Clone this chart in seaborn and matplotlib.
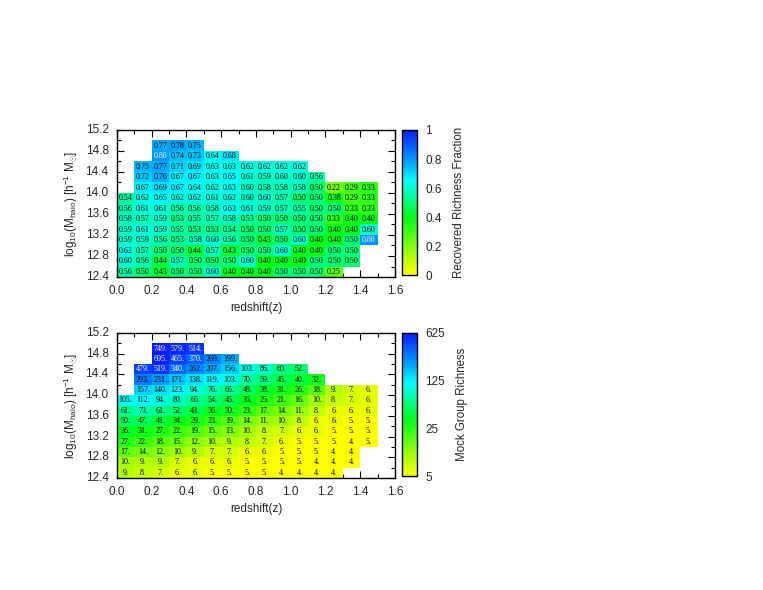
import numpy as np
import pandas as pd
import matplotlib
matplotlib.use("Agg")
import matplotlib.pyplot as plt
import seaborn as sns
from matplotlib.colors import LinearSegmentedColormap, LogNorm
from matplotlib.ticker import FixedLocator, LogLocator, NullFormatter

# bins: redshift en pasos de 0.1, masa en pasos de 0.2 dex (de arriba a abajo)
z_edges = [round(0.1 * i, 1) for i in range(17)]
mass_lo = [15.0, 14.8, 14.6, 14.4, 14.2, 14.0, 13.8, 13.6, 13.4, 13.2, 13.0, 12.8, 12.6, 12.4]
col_start = [0, 2, 2, 1, 1, 1, 0, 0, 0, 0, 0, 0, 0, 0]

# fraccion de riqueza recuperada por fila
frac_rows = [
    [],
    [0.77, 0.78, 0.75],
    [0.80, 0.74, 0.73, 0.64, 0.68],
    [0.75, 0.77, 0.71, 0.69, 0.63, 0.63, 0.62, 0.62, 0.62, 0.62],
    [0.72, 0.76, 0.67, 0.67, 0.63, 0.65, 0.61, 0.59, 0.60, 0.60, 0.56],
    [0.67, 0.69, 0.67, 0.64, 0.62, 0.63, 0.60, 0.58, 0.58, 0.58, 0.50, 0.22, 0.29, 0.33],
    [0.54, 0.62, 0.65, 0.62, 0.62, 0.61, 0.62, 0.60, 0.60, 0.57, 0.50, 0.50, 0.38, 0.29, 0.33],
    [0.56, 0.61, 0.61, 0.56, 0.56, 0.58, 0.63, 0.61, 0.59, 0.57, 0.55, 0.50, 0.50, 0.33, 0.33],
    [0.58, 0.57, 0.59, 0.53, 0.55, 0.57, 0.58, 0.53, 0.50, 0.50, 0.50, 0.50, 0.33, 0.40, 0.40],
    [0.59, 0.61, 0.59, 0.55, 0.53, 0.53, 0.54, 0.50, 0.50, 0.57, 0.50, 0.50, 0.40, 0.40, 0.60],
    [0.59, 0.59, 0.56, 0.53, 0.58, 0.60, 0.56, 0.50, 0.43, 0.50, 0.60, 0.40, 0.40, 0.50, 0.80],
    [0.62, 0.57, 0.50, 0.50, 0.44, 0.57, 0.43, 0.50, 0.50, 0.60, 0.40, 0.40, 0.50, 0.50],
    [0.60, 0.56, 0.44, 0.57, 0.50, 0.50, 0.50, 0.60, 0.40, 0.40, 0.40, 0.50, 0.50, 0.50],
    [0.56, 0.50, 0.43, 0.50, 0.50, 0.60, 0.40, 0.40, 0.40, 0.50, 0.50, 0.50, 0.25],
]

# riqueza de los grupos mock por fila
rich_rows = [
    [],
    [749, 579, 514],
    [695, 465, 370, 269, 199],
    [479, 519, 340, 262, 207, 156, 103, 86, 60, 52],
    [293, 231, 171, 138, 119, 103, 70, 59, 45, 40, 32],
    [157, 140, 123, 94, 76, 65, 48, 38, 31, 26, 18, 9, 7, 6],
    [105, 112, 94, 80, 65, 54, 45, 35, 25, 21, 16, 10, 8, 7, 6],
    [61, 73, 61, 52, 43, 36, 30, 23, 17, 14, 11, 8, 6, 6, 6],
    [50, 47, 41, 34, 29, 23, 19, 14, 11, 10, 8, 6, 6, 5, 5],
    [36, 31, 27, 22, 19, 15, 13, 10, 8, 7, 6, 6, 5, 5, 5],
    [27, 22, 18, 15, 12, 10, 9, 8, 7, 6, 5, 5, 5, 4, 5],
    [17, 14, 12, 10, 9, 7, 7, 6, 6, 5, 5, 5, 4, 4],
    [10, 9, 9, 7, 6, 6, 6, 5, 5, 5, 5, 4, 4, 4],
    [9, 8, 7, 6, 6, 5, 5, 5, 5, 4, 4, 4, 4],
]

frac_ticks = [0, 0.2, 0.4, 0.6, 0.8, 1.0]
frac_ticklabels = ["0", "0.2", "0.4", "0.6", "0.8", "1"]
rich_ticks = [5, 25, 125, 625]


def build_matrix(rows):
    m = np.full((len(mass_lo), len(z_edges) - 1), np.nan)
    for i, vals in enumerate(rows):
        for j, v in enumerate(vals):
            m[i, col_start[i] + j] = v
    return pd.DataFrame(m, index=mass_lo, columns=z_edges[:-1])


frac = build_matrix(frac_rows)
rich = build_matrix(rich_rows)

# paleta estilo gnuplot: amarillo -> verde -> cian -> azul
cmap = LinearSegmentedColormap.from_list(
    "gp", [(0.0, "#ffff00"), (0.4, "#00ff1a"), (0.65, "#00ffff"),
           (0.8, "#0096ff"), (1.0, "#0a1eff")])

sns.set_style("white")
plt.rcParams["font.family"] = ["Liberation Sans", "DejaVu Sans"]
plt.rcParams["mathtext.fontset"] = "custom"
plt.rcParams["mathtext.rm"] = "Liberation Sans"
plt.rcParams["mathtext.it"] = "Liberation Sans:italic"

fig = plt.figure(figsize=(7.63, 5.90), dpi=100)
ax1 = fig.add_axes([0.1533, 0.5305, 0.3644, 0.2492])
cax1 = fig.add_axes([0.5270, 0.5335, 0.0197, 0.2462])
ax2 = fig.add_axes([0.1533, 0.1898, 0.3644, 0.2458])
cax2 = fig.add_axes([0.5270, 0.1928, 0.0197, 0.2428])

annot_kw = {"fontsize": 5.8, "family": "Liberation Serif"}

frac_lab = frac.map(lambda v: "" if np.isnan(v) else f"{v:.2f}")
sns.heatmap(frac, ax=ax1, cmap=cmap, vmin=0, vmax=1, cbar_ax=cax1,
            annot=frac_lab.values, fmt="", annot_kws=annot_kw)

rich_lab = rich.map(lambda v: "" if np.isnan(v) else f"{int(v)}.")
sns.heatmap(rich, ax=ax2, cmap=cmap, norm=LogNorm(vmin=5, vmax=625), cbar_ax=cax2,
            annot=rich_lab.values, fmt="", annot_kws=annot_kw)

# color del texto: blanco sobre celdas azul oscuro
for t in ax1.texts:
    t.set_color("white" if float(t.get_text()) >= 0.8 else "black")
for t in ax2.texts:
    t.set_color("white" if int(t.get_text()[:-1]) >= 300 else "black")

for ax in (ax1, ax2):
    for s in ax.spines.values():
        s.set_visible(True)
        s.set_color("black")
        s.set_linewidth(1.0)
    ax.set_xlim(0, 16)
    ax.set_ylim(14, 0)
    ax.xaxis.set_major_locator(FixedLocator(range(0, 17, 2)))
    ax.xaxis.set_minor_locator(FixedLocator(range(1, 17, 2)))
    ax.set_xticklabels([f"{0.1 * i:.1f}" for i in range(0, 17, 2)], rotation=0)
    ax.yaxis.set_major_locator(FixedLocator(range(0, 15, 2)))
    ax.yaxis.set_minor_locator(FixedLocator(range(1, 15, 2)))
    ax.set_yticklabels([f"{15.2 - 0.2 * i:.1f}" for i in range(0, 15, 2)], rotation=0)
    ax.tick_params(which="both", direction="in", top=True, right=True,
                   bottom=True, left=True, color="black", labelsize=8.5)
    ax.tick_params(which="major", length=5, width=0.8, pad=6)
    ax.tick_params(which="minor", length=3, width=0.8)
    ax.set_xlabel("redshift(z)", fontsize=8.5, labelpad=3)
    ax.set_ylabel(r"log$_{10}$(M$_{\mathrm{halo}}$) [h$^{-1}$ M$_{\odot}$]",
                  fontsize=8.5, labelpad=4)

cb1 = ax1.collections[0].colorbar
cb1.set_ticks(frac_ticks)
cb1.set_ticklabels(frac_ticklabels)
cb1.set_label("Recovered Richness Fraction", fontsize=8.3, labelpad=8)

cb2 = ax2.collections[0].colorbar
cb2.set_ticks(rich_ticks)
cb2.set_ticklabels([str(v) for v in rich_ticks])
cb2.ax.yaxis.set_minor_locator(LogLocator(base=5, subs=(2, 3, 4)))
cb2.ax.yaxis.set_minor_formatter(NullFormatter())
cb2.set_label("Mock Group Richness", fontsize=8.3, labelpad=8)

for cb in (cb1, cb2):
    cb.outline.set_edgecolor("black")
    cb.outline.set_linewidth(1.0)
    cb.ax.tick_params(which="both", direction="in", left=True, right=True,
                      labelsize=8.5, color="black")
    cb.ax.tick_params(which="major", length=5, pad=6)
    cb.ax.tick_params(which="minor", length=3)

fig.savefig("out.png", dpi=100)
